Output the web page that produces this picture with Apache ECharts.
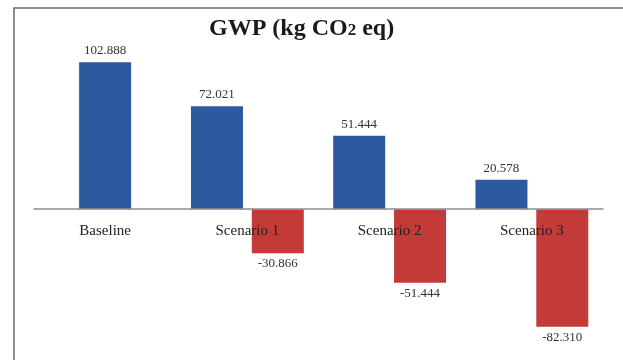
<!DOCTYPE html>
<html>
<head>
<meta charset="utf-8">
<script src="https://cdn.jsdelivr.net/npm/echarts@6/dist/echarts.min.js"></script>
<style>
  html, body { margin: 0; padding: 0; background: #ffffff; }
  #chart { width: 623px; height: 360px; }
</style>
</head>
<body>
<div id="chart"></div>
<script>
// Global warming potential per scenario (kg CO2 eq)
const categories = ['Baseline', 'Scenario 1', 'Scenario 2', 'Scenario 3'];
const baselineValues = [102.888, '-', '-', '-'];
const emissionValues = ['-', 72.021, 51.444, 20.578];
const avoidedValues = ['-', -30.866, -51.444, -82.310];

const SERIF = '"Liberation Serif", "DejaVu Serif", serif';
const BLUE = '#2c5a9e';
const RED = '#c33b39';

// value range and plot height; the category axis sits on the zero line
const Y_MIN = -100;
const Y_MAX = 110;
const PLOT_TOP = 52;
const PLOT_HEIGHT = 300;
const zeroOffset = -PLOT_HEIGHT * (0 - Y_MIN) / (Y_MAX - Y_MIN);

const fmt = p => Number(p.value).toFixed(3);

const valueLabel = (position, distance) => ({
  show: true,
  position: position,
  distance: distance,
  formatter: fmt,
  fontFamily: SERIF,
  fontSize: 13,
  color: '#333333'
});

const chart = echarts.init(document.getElementById('chart'), null, { renderer: 'canvas' });

chart.setOption({
  animation: false,
  backgroundColor: '#ffffff',
  title: {
    text: 'GWP (kg CO{sub|2} eq)',
    left: 204,
    top: 12,
    textStyle: {
      fontFamily: SERIF,
      fontSize: 24,
      fontWeight: 'bold',
      color: '#1a1a1a',
      rich: {
        sub: {
          fontFamily: SERIF,
          fontSize: 17,
          fontWeight: 'bold',
          color: '#1a1a1a',
          verticalAlign: 'bottom',
          padding: [0, 0, 2, 0]
        }
      }
    }
  },
  graphic: [{
    type: 'rect',
    silent: true,
    z: -1,
    shape: { x: 14, y: 8, width: 700, height: 400 },
    style: { fill: 'none', stroke: '#6a6a6a', lineWidth: 1.5 }
  }],
  grid: {
    left: 34, width: 569, top: PLOT_TOP, height: PLOT_HEIGHT,
    containLabel: false,
    outerBoundsMode: 'none'
  },
  xAxis: [{
    type: 'category',
    data: categories,
    position: 'bottom',
    offset: zeroOffset,
    z: 10,
    axisLine: { onZero: false, lineStyle: { color: '#8f8f8f', width: 1.5 } },
    axisTick: { show: false },
    axisLabel: {
      margin: 14,
      fontFamily: SERIF,
      fontSize: 15,
      color: '#222222'
    },
    splitLine: { show: false }
  }, {
    type: 'category',
    data: categories,
    show: false
  }],
  yAxis: {
    type: 'value',
    min: Y_MIN,
    max: Y_MAX,
    show: false,
    splitLine: { show: false }
  },
  series: [{
    name: 'Baseline',
    type: 'bar',
    xAxisIndex: 1,
    data: baselineValues,
    barWidth: 52,
    itemStyle: { color: BLUE },
    label: valueLabel('top', 5)
  }, {
    name: 'Emissions',
    type: 'bar',
    xAxisIndex: 0,
    data: emissionValues,
    barWidth: 52,
    barGap: '17%',
    itemStyle: { color: BLUE },
    label: valueLabel('top', 5)
  }, {
    name: 'Avoided',
    type: 'bar',
    xAxisIndex: 0,
    data: avoidedValues,
    barWidth: 52,
    barGap: '17%',
    itemStyle: { color: RED },
    label: valueLabel('bottom', 4)
  }]
});
</script>
</body>
</html>
